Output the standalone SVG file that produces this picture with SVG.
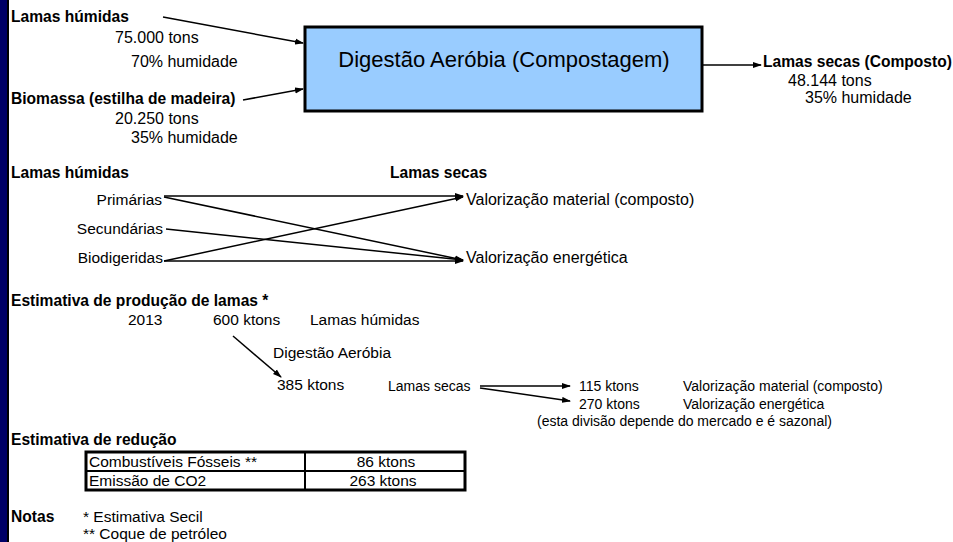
<svg xmlns="http://www.w3.org/2000/svg" width="953" height="542" viewBox="0 0 953 542">
<style>
text{font-family:"Liberation Sans",Arial,sans-serif;fill:#000;font-size:15.5px}
.b{font-weight:bold;font-size:15.6px}
.t16{font-size:16px}
.t14{font-size:14px}
.e{text-anchor:end}
.m{text-anchor:middle}
.ln{stroke:#000;stroke-width:1.5;fill:none;marker-end:url(#ah)}
</style>
<defs>
<marker id="ah" markerWidth="9" markerHeight="7" refX="8" refY="3.5" orient="auto" markerUnits="userSpaceOnUse">
<path d="M0,0.5 L9,3.5 L0,6.5 Z" fill="#000"/>
</marker>
</defs>
<rect x="0" y="0" width="953" height="542" fill="#fff"/>
<rect x="0" y="0" width="7" height="542" fill="#000066"/>
<rect x="7" y="0" width="2" height="542" fill="#000"/>

<g id="connectors">
<line class="ln" x1="163" y1="17" x2="303" y2="43"/>
<line class="ln" x1="243" y1="100" x2="303" y2="89"/>
<line class="ln" x1="703" y1="65" x2="761" y2="65"/>
<line class="ln" x1="164" y1="196" x2="463" y2="196"/>
<line class="ln" x1="164" y1="197" x2="463" y2="260"/>
<line class="ln" x1="166" y1="229" x2="463" y2="260"/>
<line class="ln" x1="164" y1="261" x2="463" y2="261"/>
<line class="ln" x1="164" y1="261" x2="463" y2="197"/>
<line class="ln" x1="233" y1="336" x2="281" y2="377"/>
<line class="ln" x1="480" y1="386" x2="570" y2="386"/>
<line class="ln" x1="480" y1="388" x2="570" y2="401"/>
</g>

<g id="input-lamas">
<text class="b" x="11" y="22">Lamas húmidas</text>
<text class="t16" x="115" y="43">75.000 tons</text>
<text class="t16" x="131" y="67">70% humidade</text>
</g>
<g id="input-biomassa">
<text class="b" x="11" y="104">Biomassa (estilha de madeira)</text>
<text class="t16" x="115" y="124">20.250 tons</text>
<text class="t16" x="131" y="143">35% humidade</text>
</g>
<g id="digestao">
<rect x="305" y="27" width="397" height="84" fill="#99CCFF" stroke="#000" stroke-width="3"/>
<text class="m" x="504" y="67" style="font-size:22px">Digestão Aeróbia (Compostagem)</text>
</g>
<g id="output-lamas">
<text class="b" x="763" y="67">Lamas secas (Composto)</text>
<text class="t16" x="788" y="86">48.144 tons</text>
<text class="t16" x="805" y="103">35% humidade</text>
</g>

<g id="header-humidas"><text class="b" x="11" y="178">Lamas húmidas</text></g>
<g id="header-secas"><text class="b" x="390" y="178">Lamas secas</text></g>
<g id="primarias"><text class="e" x="162" y="205">Primárias</text></g>
<g id="secundarias"><text class="e" x="163" y="234">Secundárias</text></g>
<g id="biodigeridas"><text class="e" x="163" y="263">Biodigeridas</text></g>
<g id="val-material"><text class="t16" x="466" y="205">Valorização material (composto)</text></g>
<g id="val-energetica"><text class="t16" x="466" y="263">Valorização energética</text></g>

<g id="estimativa-producao">
<text class="b" x="11" y="306">Estimativa de produção de lamas *</text>
<text x="128" y="325">2013</text>
<text x="213" y="325">600 ktons</text>
<text x="310" y="325">Lamas húmidas</text>
<text x="273" y="358">Digestão Aeróbia</text>
<text x="277" y="390">385 ktons</text>
<text class="t14" x="388" y="391">Lamas secas</text>
</g>
<g id="split">
<text class="t14" x="579" y="391">115 ktons</text>
<text class="t14" x="683" y="391">Valorização material (composto)</text>
<text class="t14" x="579" y="409">270 ktons</text>
<text class="t14" x="683" y="409">Valorização energética</text>
<text class="t14" x="537" y="426">(esta divisão depende do mercado e é sazonal)</text>
</g>

<g id="estimativa-reducao">
<text class="b" x="11" y="445">Estimativa de redução</text>
<rect x="86" y="452" width="379" height="38" fill="#fff" stroke="#000" stroke-width="3"/>
<line x1="86" y1="471" x2="465" y2="471" stroke="#000" stroke-width="2"/>
<line x1="305" y1="452" x2="305" y2="490" stroke="#000" stroke-width="2"/>
<text x="89" y="467">Combustíveis Fósseis **</text>
<text class="m" x="386" y="467">86 ktons</text>
<text x="89" y="486">Emissão de CO2</text>
<text class="m" x="383" y="486">263 ktons</text>
</g>

<g id="notas">
<text class="b" x="11" y="522">Notas</text>
<text x="83" y="522">* Estimativa Secil</text>
<text x="83" y="539">** Coque de petróleo</text>
</g>
</svg>
